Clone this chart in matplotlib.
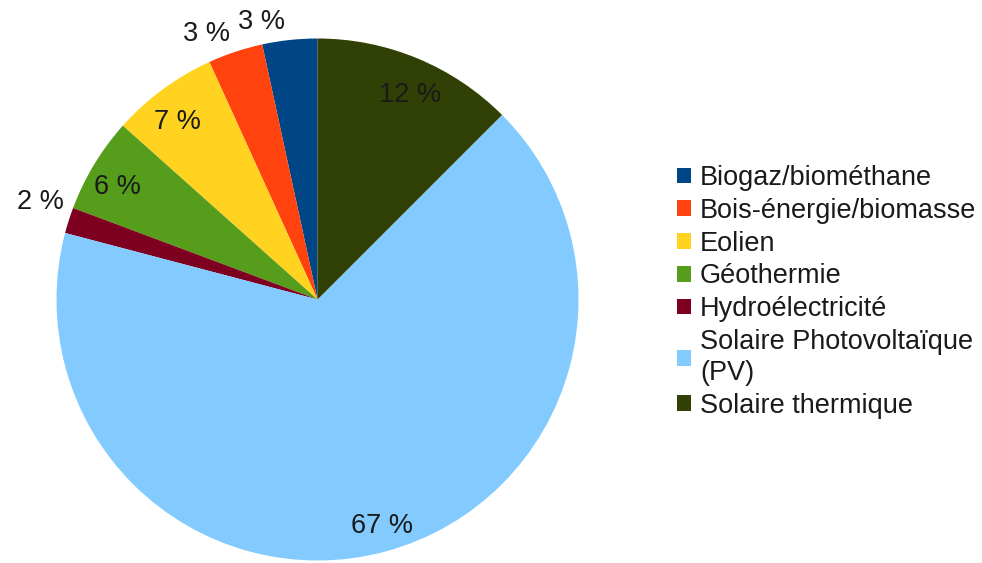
import matplotlib
matplotlib.use("Agg")
import matplotlib.pyplot as plt
import numpy as np
from matplotlib.patches import Patch

plt.rcParams['font.family'] = ['Liberation Sans', 'DejaVu Sans']

categories = ["Biogaz/biométhane", "Bois-énergie/biomasse", "Eolien", "Géothermie",
              "Hydroélectricité", "Solaire Photovoltaïque\n(PV)", "Solaire thermique"]
values = [3.4, 3.4, 6.6, 5.9, 1.6, 66.6, 12.5]
colors = ["#004586", "#ff420e", "#ffd320", "#579d1c", "#7e0021", "#83caff", "#314004"]
outside = [True, True, False, False, True, False, False]

W, H = 982, 563
fig = plt.figure(figsize=(W / 100, H / 100), dpi=100)
cx, cy, R = 317.5, 299.5, 261
ax = fig.add_axes([(cx - R) / W, (H - cy - R) / H, 2 * R / W, 2 * R / H])

wedges, _ = ax.pie(values, colors=colors, startangle=90, counterclock=True, radius=1,
                   wedgeprops=dict(linewidth=0))
ax.set_xlim(-1, 1)
ax.set_ylim(-1, 1)
ax.set_aspect('equal')
ax.axis('off')

total = sum(values)
fs = 19.5
tc = '#1a1a1a'
for w, v, out in zip(wedges, values, outside):
    mid = np.deg2rad((w.theta1 + w.theta2) / 2)
    lbl = f"{round(v / total * 100)} %"
    ex, ey = np.cos(mid), np.sin(mid)
    if out:
        ax.annotate(lbl, xy=(ex, ey), xytext=(-5 if ex < 0 else 5, 11),
                    textcoords='offset pixels', ha='right' if ex < 0 else 'left',
                    va='baseline', fontsize=fs, color=tc, annotation_clip=False)
    else:
        r = 0.875
        ax.annotate(lbl, xy=(r * ex, r * ey), xytext=(5 * np.sign(ex), -6),
                    textcoords='offset pixels', ha='center', va='center',
                    fontsize=fs, color=tc)

handles = [Patch(facecolor=c, edgecolor='none') for c in colors]
fig.legend(handles, categories, loc='upper left', bbox_to_anchor=(677 / W, 1 - 165 / H),
           frameon=False, fontsize=fs, handlelength=0.52, handleheight=0.52,
           handletextpad=0.33, labelspacing=0.25, borderpad=0, borderaxespad=0)
for t in fig.legends[0].get_texts():
    t.set_color(tc)
    t.set_linespacing(1.25)

fig.savefig("out.png", dpi=100)
